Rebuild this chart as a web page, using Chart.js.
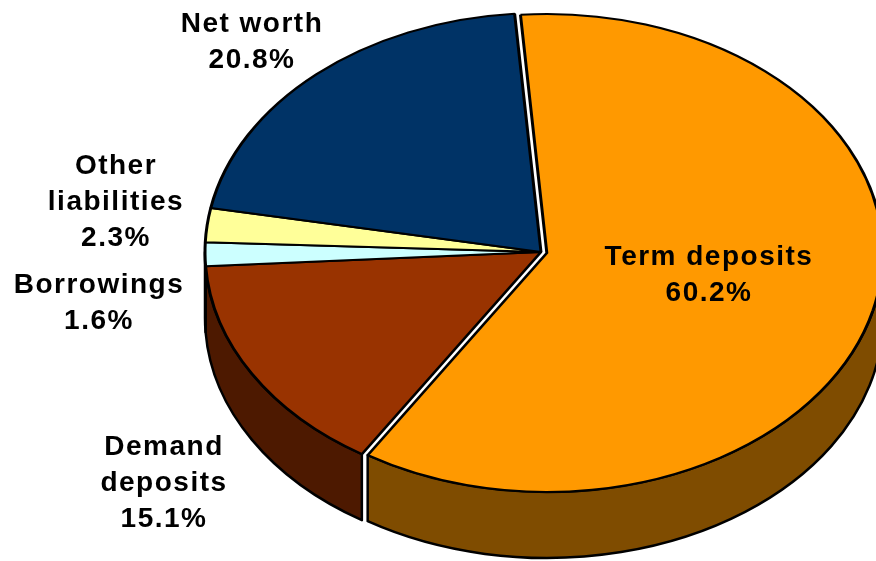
<!DOCTYPE html>
<html lang="en">
<head>
    <meta charset="UTF-8">
    <title>Liabilities breakdown</title>
    <script src="https://cdn.jsdelivr.net/npm/chart.js"></script>
    <style>
        html, body { margin: 0; padding: 0; background: #fff; }
        #wrap { width: 876px; height: 561px; }
    </style>
</head>
<body>
    <div id="wrap"><canvas id="pieChart" width="876" height="561"></canvas></div>

    <script>
        // Categories (one entry per text line) and their shares in percent
        const categories = [['Term deposits'], ['Demand', 'deposits'], ['Borrowings'], ['Other', 'liabilities'], ['Net worth']];
        const shares = [60.2, 15.1, 1.6, 2.3, 20.8];

        const topColours  = ['#FF9900', '#993300', '#CCFFFF', '#FFFF99', '#003366'];
        const sideColours = ['#7F4C00', '#4D1900', '#668080', '#80804C', '#001933'];

        // Where the squashed pie sits on the page
        const CX = 541, CY = 252, RX = 336, RY = 239, DEPTH = 66;
        const explode = [6, 0, 0, 0, 0];

        // First-line position of each label, centre x / cap-middle y
        const labelAnchors = [[709, 255], [164, 445], [99, 283], [116, 164], [252, 22]];
        const LINE_GAP = 36;

        const pie3d = {
            id: 'pie3d',
            beforeDatasetsDraw(chart) {
                const ctx = chart.ctx;
                const arcs = chart.getDatasetMeta(0).data;
                const shift = arcs.map((arc, i) => {
                    const mid = (arc.startAngle + arc.endAngle) / 2;
                    return [explode[i] * Math.cos(mid), explode[i] * Math.sin(mid) * RY / RX];
                });

                // side walls - only the front half (0..PI) faces us
                arcs.forEach((arc, i) => {
                    const cx = CX + shift[i][0], cy = CY + shift[i][1];
                    for (const k of [0, -2 * Math.PI, 2 * Math.PI]) {
                        const a = Math.max(arc.startAngle + k, 0);
                        const b = Math.min(arc.endAngle + k, Math.PI);
                        if (b <= a) continue;
                        ctx.beginPath();
                        ctx.ellipse(cx, cy, RX, RY, 0, a, b);
                        ctx.lineTo(cx + RX * Math.cos(b), cy + RY * Math.sin(b) + DEPTH);
                        ctx.ellipse(cx, cy + DEPTH, RX, RY, 0, b, a, true);
                        ctx.closePath();
                        ctx.fillStyle = sideColours[i];
                        ctx.fill();
                        ctx.lineWidth = 2.5;
                        ctx.lineJoin = 'round';
                        ctx.strokeStyle = '#000';
                        ctx.stroke();
                    }
                });

                // top faces: the library's arcs, squashed into an ellipse
                arcs.forEach((arc, i) => {
                    ctx.save();
                    ctx.translate(CX + shift[i][0], CY + shift[i][1]);
                    ctx.scale(RX / arc.outerRadius, RY / arc.outerRadius);
                    ctx.translate(-arc.x, -arc.y);
                    arc.draw(ctx);
                    ctx.restore();
                });
                return false;
            },
            afterDraw(chart) {
                const ctx = chart.ctx;
                ctx.save();
                ctx.font = 'bold 28px "Liberation Sans", Arial, sans-serif';
                ctx.letterSpacing = '1.5px';
                ctx.fillStyle = '#000';
                ctx.textAlign = 'center';
                ctx.textBaseline = 'alphabetic';
                categories.forEach((lines, i) => {
                    const rows = [...lines, shares[i].toFixed(1) + '%'];
                    const [x, y] = labelAnchors[i];
                    rows.forEach((t, j) => ctx.fillText(t, x, y + 10 + j * LINE_GAP));
                });
                ctx.restore();
            }
        };

        new Chart(document.getElementById('pieChart'), {
            type: 'pie',
            data: {
                labels: categories,
                datasets: [{
                    data: shares,
                    backgroundColor: topColours,
                    borderColor: '#000',
                    borderWidth: 2.5
                }]
            },
            options: {
                responsive: false,
                animation: false,
                rotation: -4.5,
                plugins: {
                    legend: { display: false },
                    tooltip: { enabled: false }
                }
            },
            plugins: [pie3d]
        });
    </script>
</body>
</html>
